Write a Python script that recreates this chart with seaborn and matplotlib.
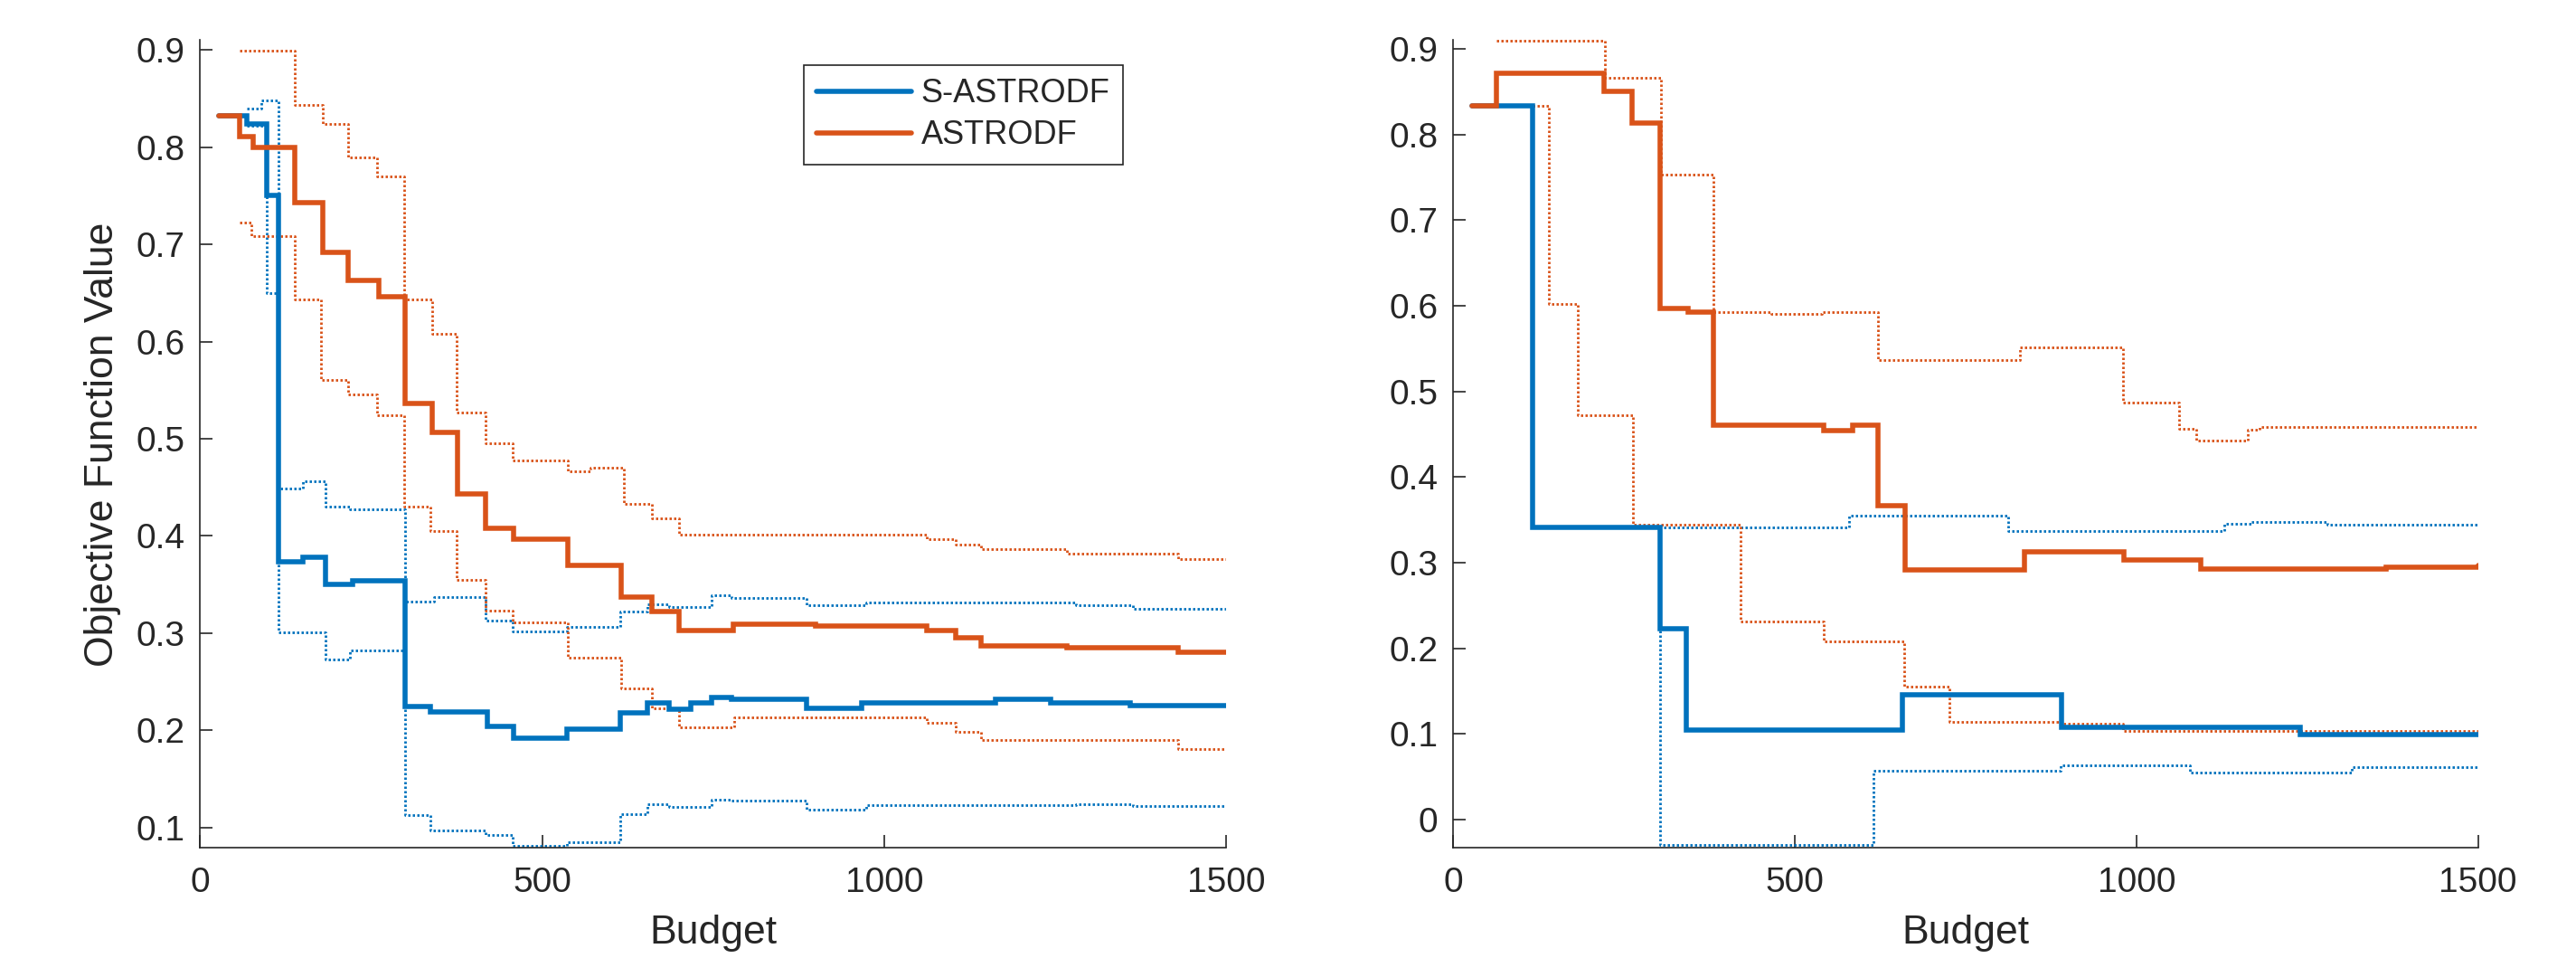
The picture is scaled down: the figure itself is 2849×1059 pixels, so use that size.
import numpy as np
import pandas as pd
import matplotlib
matplotlib.use("Agg")
import matplotlib.pyplot as plt
import seaborn as sns
from matplotlib.lines import Line2D

# ---------------- data ----------------
series_names = ["S-ASTRODF", "ASTRODF"]

# Left panel
L_S_mean_b = [28, 68, 98, 115, 150, 183, 223, 300, 337, 420, 459, 536, 614, 654, 686, 717, 748, 777, 887, 967, 1163, 1243, 1360, 1500]
L_S_mean_v = [0.832, 0.824, 0.750, 0.373, 0.378, 0.350, 0.354, 0.224, 0.219, 0.204, 0.192, 0.201, 0.218, 0.228, 0.222, 0.228, 0.234, 0.232, 0.223, 0.228, 0.232, 0.228, 0.225, 0.225]
L_S_up_b = [68, 90, 115, 150, 183, 219, 300, 342, 417, 457, 536, 614, 654, 686, 748, 777, 887, 973, 1280, 1364, 1500]
L_S_up_v = [0.840, 0.848, 0.449, 0.456, 0.430, 0.427, 0.332, 0.337, 0.313, 0.302, 0.306, 0.322, 0.330, 0.327, 0.339, 0.336, 0.329, 0.331, 0.329, 0.325, 0.325]
L_S_lo_b = [68, 98, 115, 183, 219, 300, 337, 417, 457, 536, 614, 654, 686, 748, 777, 887, 973, 1280, 1364, 1500]
L_S_lo_v = [0.822, 0.650, 0.301, 0.273, 0.282, 0.113, 0.097, 0.092, 0.081, 0.085, 0.114, 0.124, 0.121, 0.129, 0.128, 0.118, 0.123, 0.124, 0.122, 0.122]

L_A_mean_b = [28, 58, 78, 138, 179, 217, 261, 300, 340, 377, 417, 459, 538, 616, 660, 700, 779, 899, 1062, 1105, 1141, 1267, 1430, 1500]
L_A_mean_v = [0.832, 0.811, 0.800, 0.743, 0.692, 0.663, 0.646, 0.536, 0.506, 0.443, 0.408, 0.397, 0.370, 0.337, 0.322, 0.303, 0.309, 0.307, 0.303, 0.295, 0.287, 0.285, 0.280, 0.280]
L_A_up_b = [58, 139, 179, 217, 259, 298, 340, 375, 417, 457, 538, 571, 620, 660, 700, 1062, 1105, 1141, 1267, 1430, 1500]
L_A_up_v = [0.899, 0.843, 0.824, 0.789, 0.770, 0.643, 0.608, 0.527, 0.495, 0.478, 0.466, 0.470, 0.433, 0.418, 0.401, 0.397, 0.391, 0.386, 0.382, 0.376, 0.376]
L_A_lo_b = [58, 75, 138, 177, 217, 259, 298, 337, 375, 417, 457, 538, 616, 660, 700, 781, 1062, 1105, 1141, 1394, 1430, 1500]
L_A_lo_v = [0.722, 0.708, 0.643, 0.560, 0.546, 0.524, 0.430, 0.405, 0.355, 0.323, 0.311, 0.275, 0.243, 0.223, 0.203, 0.213, 0.208, 0.198, 0.190, 0.190, 0.181, 0.181]

# Right panel
R_S_mean_b = [28, 117, 303, 341, 658, 890, 1240, 1500]
R_S_mean_v = [0.833, 0.341, 0.223, 0.105, 0.146, 0.108, 0.099, 0.099]
R_S_up_b = [117, 303, 580, 812, 1128, 1168, 1280, 1500]
R_S_up_v = [0.341, 0.341, 0.355, 0.337, 0.345, 0.348, 0.344, 0.344]
R_S_lo_b = [117, 303, 615, 889, 1079, 1315, 1500]
R_S_lo_v = [0.341, -0.030, 0.057, 0.063, 0.055, 0.061, 0.061]

R_A_mean_b = [28, 64, 221, 262, 303, 344, 381, 542, 585, 622, 661, 836, 982, 1094, 1366, 1500]
R_A_mean_v = [0.833, 0.871, 0.850, 0.813, 0.597, 0.593, 0.461, 0.454, 0.461, 0.367, 0.292, 0.313, 0.303, 0.293, 0.295, 0.297]
R_A_up_b = [64, 223, 304, 381, 466, 540, 622, 830, 980, 1062, 1088, 1163, 1180, 1500]
R_A_up_v = [0.909, 0.866, 0.753, 0.593, 0.590, 0.593, 0.537, 0.551, 0.487, 0.456, 0.443, 0.455, 0.458, 0.458]
R_A_lo_b = [64, 140, 183, 263, 421, 542, 660, 727, 890, 980, 1500]
R_A_lo_v = [0.833, 0.602, 0.472, 0.344, 0.231, 0.208, 0.155, 0.114, 0.112, 0.103, 0.103]

x_ticks = [0, 500, 1000, 1500]
L_y_ticks = [0.1, 0.2, 0.3, 0.4, 0.5, 0.6, 0.7, 0.8, 0.9]
R_y_ticks = [0, 0.1, 0.2, 0.3, 0.4, 0.5, 0.6, 0.7, 0.8, 0.9]
x_label = "Budget"
y_label = "Objective Function Value"

# ---------------- style ----------------
sns.set_theme(style="ticks")
plt.rcParams["font.family"] = ["Liberation Sans", "DejaVu Sans"]
TXT = "#262626"
C_S = "#0072BD"
C_A = "#D95319"

fig = plt.figure(figsize=(28.49, 10.59), dpi=100)
axL = fig.add_axes([0.0776, 0.115, 0.3985, 0.843])
axR = fig.add_axes([0.5640, 0.115, 0.3980, 0.843])


def draw(ax, b, v, color, dotted=False):
    df = pd.DataFrame({"Budget": b, "Value": v})
    if dotted:
        sns.lineplot(data=df, x="Budget", y="Value", ax=ax, color=color,
                     lw=2.0, linestyle=(0, (0.9, 0.9)), drawstyle="steps-post",
                     estimator=None, sort=False, legend=False)
    else:
        sns.lineplot(data=df, x="Budget", y="Value", ax=ax, color=color,
                     lw=4.0, drawstyle="steps-post", solid_joinstyle="miter",
                     estimator=None, sort=False, legend=False)


panels = [
    (axL, [(L_S_up_b, L_S_up_v, L_S_lo_b, L_S_lo_v, L_S_mean_b, L_S_mean_v, C_S),
           (L_A_up_b, L_A_up_v, L_A_lo_b, L_A_lo_v, L_A_mean_b, L_A_mean_v, C_A)],
     L_y_ticks, (0.079, 0.91)),
    (axR, [(R_S_up_b, R_S_up_v, R_S_lo_b, R_S_lo_v, R_S_mean_b, R_S_mean_v, C_S),
           (R_A_up_b, R_A_up_v, R_A_lo_b, R_A_lo_v, R_A_mean_b, R_A_mean_v, C_A)],
     R_y_ticks, (-0.033, 0.91)),
]

for ax, groups, yt, ylim in panels:
    for ub, uv, lb, lv, mb, mv, c in groups:
        draw(ax, ub, uv, c, dotted=True)
        draw(ax, lb, lv, c, dotted=True)
    for ub, uv, lb, lv, mb, mv, c in groups:
        draw(ax, mb, mv, c, dotted=False)
    ax.set_xlim(0, 1500)
    ax.set_ylim(*ylim)
    ax.set_xticks(x_ticks)
    ax.set_xticklabels([str(t) for t in x_ticks])
    ax.set_yticks(yt)
    ax.set_yticklabels([("0" if t == 0 else f"{t:.1f}") for t in yt])
    ax.tick_params(axis="both", direction="in", length=10, width=1.2,
                   colors=TXT, labelsize=28)
    ax.tick_params(axis="x", pad=15)
    ax.tick_params(axis="y", pad=12)
    for s in ["top", "right"]:
        ax.spines[s].set_visible(False)
    for s in ["left", "bottom"]:
        ax.spines[s].set_color(TXT)
        ax.spines[s].set_linewidth(1.2)
    ax.set_xlabel(x_label, fontsize=32, color=TXT, labelpad=12)
    ax.set_ylabel("")
    ax.set_facecolor("white")

axL.set_ylabel(y_label, fontsize=32, color=TXT, labelpad=12)

handles = [Line2D([0], [0], color=C_S, lw=4.0), Line2D([0], [0], color=C_A, lw=4.0)]
leg = axL.legend(handles, series_names, loc="upper right",
                 bbox_to_anchor=(1242 / 2849, 1 - 72 / 1059),
                 bbox_transform=fig.transFigure, fontsize=26,
                 frameon=True, fancybox=False, shadow=False, framealpha=1,
                 edgecolor=TXT, handlelength=2.9, handletextpad=0.3,
                 labelspacing=0.3, borderpad=0.4, borderaxespad=0)
leg.get_frame().set_linewidth(1.2)
for t in leg.get_texts():
    t.set_color(TXT)

fig.savefig("out.png", dpi=100, facecolor="white")
